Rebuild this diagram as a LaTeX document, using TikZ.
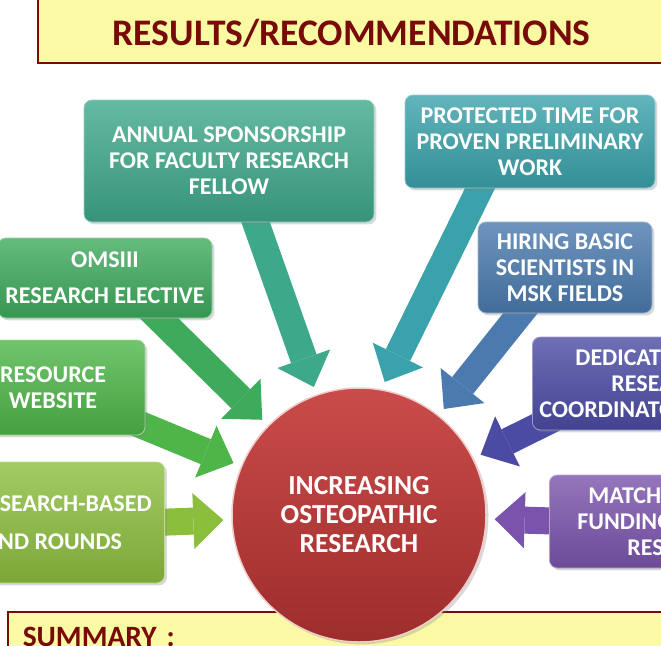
\documentclass[tikz,border=0pt]{standalone}
\usepackage{fontspec}
\setmainfont{Carlito}
\usetikzlibrary{arrows.meta,shadows}
\definecolor{annualc}{RGB}{62,168,138}
\definecolor{protectc}{RGB}{58,162,170}
\definecolor{hiringc}{RGB}{74,122,174}
\definecolor{dedicc}{RGB}{75,75,164}
\definecolor{matchc}{RGB}{122,84,172}
\definecolor{omsc}{RGB}{62,170,92}
\definecolor{resourcec}{RGB}{78,182,72}
\definecolor{roundsc}{RGB}{140,190,62}
\definecolor{ballc}{RGB}{196,56,54}
\definecolor{notec}{RGB}{250,250,165}
\definecolor{maroon}{RGB}{120,10,10}
\pgfdeclarelayer{behind}
\pgfsetlayers{behind,main}

\begin{document}
\begin{tikzpicture}[x=1pt,y=-1pt,
        box/.style={rounded corners=8pt, top color=#1!80!white, bottom color=#1!88!black,
            draw=#1!55!white, line width=0.8pt, text=white, align=center,
            font=\bfseries\fontsize{24}{26}\selectfont, drop shadow={opacity=0.3}},
        flow/.style={draw=#1, line width=27pt, shorten >=8pt,
            -{Triangle[length=30pt,width=56pt,line width=0pt]}},
        banner/.style={fill=notec, draw=maroon, line width=1.5pt, text=maroon,
            align=left, inner ysep=0pt}]
            \useasboundingbox (0,0) rectangle (661,645);
            \clip (0,0) rectangle (661,645);
            \node[banner, anchor=west, text width=600pt, inner xsep=75pt, text height=65pt, text depth=18pt,
                font=\bfseries\fontsize{37.5}{42}\selectfont] (title) at (37,21.5) {RESULTS/RECOMMENDATIONS};
            \node[banner, anchor=north west, text width=700pt, inner xsep=15pt, text height=35pt, text depth=40pt,
                font=\bfseries\fontsize{29.5}{32}\selectfont] (summary) at (7,611) {SUMMARY :};
            \node[box=annualc, minimum width=290pt, minimum height=122pt] (annual) at (229,161)
                {ANNUAL SPONSORSHIP\\FOR FACULTY RESEARCH\\FELLOW};
            \node[box=protectc, minimum width=250pt, minimum height=93pt] (protected) at (530,141.5)
                {PROTECTED TIME FOR\\PROVEN PRELIMINARY\\WORK};
            \node[box=hiringc, minimum width=174pt, minimum height=91pt] (hiring) at (565,267.5)
                {HIRING BASIC\\SCIENTISTS IN\\MSK FIELDS};
            \node[box=dedicc, anchor=west, align=left, inner xsep=7pt, minimum height=93pt] (dedicated) at (532,383.5)
                {\hspace*{36pt}DEDICATED\\\hspace*{72pt}RESEARCH\\COORDINATOR};
            \node[box=matchc, anchor=west, align=left, inner xsep=28pt, minimum height=93pt] (matching) at (549,521.5)
                {\hspace*{11pt}MATCHING\\FUNDING FOR\\\hspace*{50pt}RESEARCH};
            \node[box=omsc, minimum width=214pt, minimum height=80pt] (omsiii) at (105,278)
                {OMSIII\\[10pt]RESEARCH ELECTIVE};
            \node[box=resourcec, minimum width=184pt, minimum height=95pt] (resource) at (53,387.5)
                {RESOURCE\\WEBSITE};
            \node[box=roundsc, anchor=east, align=left, inner xsep=13pt, minimum height=121pt] (rounds) at (165,522.5)
                {\hspace*{20pt}RESEARCH-BASED\\[12pt]GRAND ROUNDS};
            \node[circle, minimum size=254pt, top color=ballc!90!white, bottom color=ballc!80!black,
                draw=white!75!ballc, line width=1.5pt, text=white, align=center,
                font=\bfseries\fontsize{27.5}{29}\selectfont, drop shadow={opacity=0.3}] (circ) at (359,515)
                {INCREASING\\OSTEOPATHIC\\RESEARCH};
            \begin{pgfonlayer}{behind}
                \draw[flow=annualc] ([xshift=5pt]annual.center) -- (circ);
                \draw[flow=protectc] ([xshift=-27pt]protected.center) -- (circ.80);
                \draw[flow=hiringc] ([xshift=-8pt]hiring.center) -- (circ);
                \draw[flow=dedicc] ([xshift=30pt,yshift=16pt]dedicated.south west) -- (circ);
                \draw[flow=matchc] ([xshift=20pt]matching.west) -- (circ);
                \draw[flow=omsc] ([xshift=42pt,yshift=12pt]omsiii.south) -- (circ);
                \draw[flow=resourcec] ([xshift=-15pt,yshift=-33pt]resource.east) -- (circ);
                \draw[flow=roundsc] ([xshift=-10pt]rounds.east) -- (circ);
            \end{pgfonlayer}
        \end{tikzpicture}
\end{document}
